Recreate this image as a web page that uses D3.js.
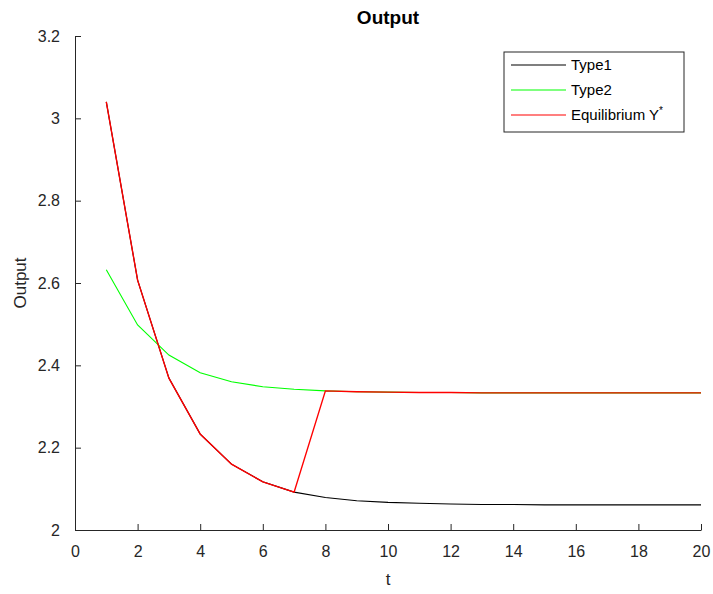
<!DOCTYPE html>
<html>
<head>
<meta charset="utf-8">
<script src="https://cdn.jsdelivr.net/npm/d3@7"></script>
<style>
  body { margin: 0; background: #fff; }
  text { font-family: "Liberation Sans", Arial, sans-serif; }
</style>
</head>
<body>
<svg class="chart"></svg>
<script>
const t = d3.range(1, 21);
const type1 = [3.040, 2.607, 2.369, 2.233, 2.160, 2.117, 2.092, 2.079, 2.071, 2.067,
               2.065, 2.063, 2.062, 2.062, 2.061, 2.061, 2.061, 2.061, 2.061, 2.061];
const type2 = [2.632, 2.498, 2.425, 2.382, 2.360, 2.348, 2.342, 2.338, 2.336, 2.335,
               2.334, 2.334, 2.333, 2.333, 2.333, 2.333, 2.333, 2.333, 2.333, 2.333];
const equilibrium = [3.040, 2.607, 2.369, 2.233, 2.160, 2.117, 2.092, 2.338, 2.336, 2.335,
                     2.334, 2.334, 2.333, 2.333, 2.333, 2.333, 2.333, 2.333, 2.333, 2.333];
const xTicks = d3.range(0, 21, 2);
const yTicks = [2, 2.2, 2.4, 2.6, 2.8, 3, 3.2];

const series = [
    { name: "Type1", values: type1, color: "#000000", w: 1.1 },
    { name: "Type2", values: type2, color: "#00ff00", w: 1.1 },
    { name: "Equilibrium Y", sup: "*", values: equilibrium, color: "#ff0000", w: 1.4 }
];

const W = 713, H = 594;
const margin = { top: 36, right: 12, bottom: 64, left: 75 },
      width = W - margin.left - margin.right,
      height = H - margin.top - margin.bottom;
const axisColor = "#262626";

const svg = d3.select(".chart")
    .attr("width", W)
    .attr("height", H)
    .append("g")
    .attr("transform", `translate(${margin.left}, ${margin.top})`);

const x = d3.scaleLinear().domain([0, 20]).range([0, width]);
const y = d3.scaleLinear().domain([2, 3.2]).range([height, 0]);

// axes, ticks pointing inward
const gx = svg.append("g")
    .attr("transform", `translate(0, ${height})`)
    .call(d3.axisBottom(x).tickValues(xTicks).tickSizeInner(-6).tickSizeOuter(0).tickPadding(16));
const gy = svg.append("g")
    .call(d3.axisLeft(y).tickValues(yTicks).tickFormat(d3.format("")).tickSizeInner(-6).tickSizeOuter(0).tickPadding(15));

[gx, gy].forEach(g => {
    g.select(".domain").attr("stroke", axisColor).attr("stroke-width", 1);
    g.selectAll(".tick line").attr("stroke", axisColor);
    g.selectAll(".tick text").attr("fill", axisColor).style("font-size", "16px");
});
gx.selectAll(".tick text").attr("dy", "0.71em");

const line = d3.line()
    .x((d, i) => x(t[i]))
    .y(d => y(d));

svg.selectAll(".series")
    .data(series)
    .enter().append("path")
    .attr("class", "series")
    .attr("fill", "none")
    .attr("stroke", d => d.color)
    .attr("stroke-width", d => d.w)
    .attr("d", d => line(d.values));

// title and labels
svg.append("text")
    .attr("x", width / 2)
    .attr("y", -12)
    .attr("text-anchor", "middle")
    .style("font-size", "19px")
    .style("font-weight", "bold")
    .attr("fill", "#000")
    .text("Output");

svg.append("text")
    .attr("x", width / 2)
    .attr("y", height + 55)
    .attr("text-anchor", "middle")
    .style("font-size", "17px")
    .attr("fill", axisColor)
    .text("t");

svg.append("text")
    .attr("transform", `translate(-49, ${height / 2}) rotate(-90)`)
    .attr("text-anchor", "middle")
    .style("font-size", "17px")
    .attr("fill", axisColor)
    .text("Output");

// legend
const legend = svg.append("g")
    .attr("transform", `translate(${504 - margin.left}, ${52 - margin.top})`);
legend.append("rect")
    .attr("width", 180)
    .attr("height", 80)
    .attr("fill", "#fff")
    .attr("stroke", axisColor)
    .attr("stroke-width", 1);
const items = legend.selectAll(".item")
    .data(series)
    .enter().append("g")
    .attr("class", "item")
    .attr("transform", (d, i) => `translate(0, ${13 + i * 25})`);
items.append("line")
    .attr("x1", 7).attr("x2", 62)
    .attr("stroke", d => d.color)
    .attr("stroke-width", 1.2);
const labels = items.append("text")
    .attr("x", 67)
    .attr("dy", "0.35em")
    .style("font-size", "15px")
    .attr("fill", "#000");
labels.append("tspan").text(d => d.name);
labels.filter(d => d.sup).append("tspan")
    .attr("dy", "-0.6em")
    .style("font-size", "10px")
    .text(d => d.sup);
</script>
</body>
</html>
